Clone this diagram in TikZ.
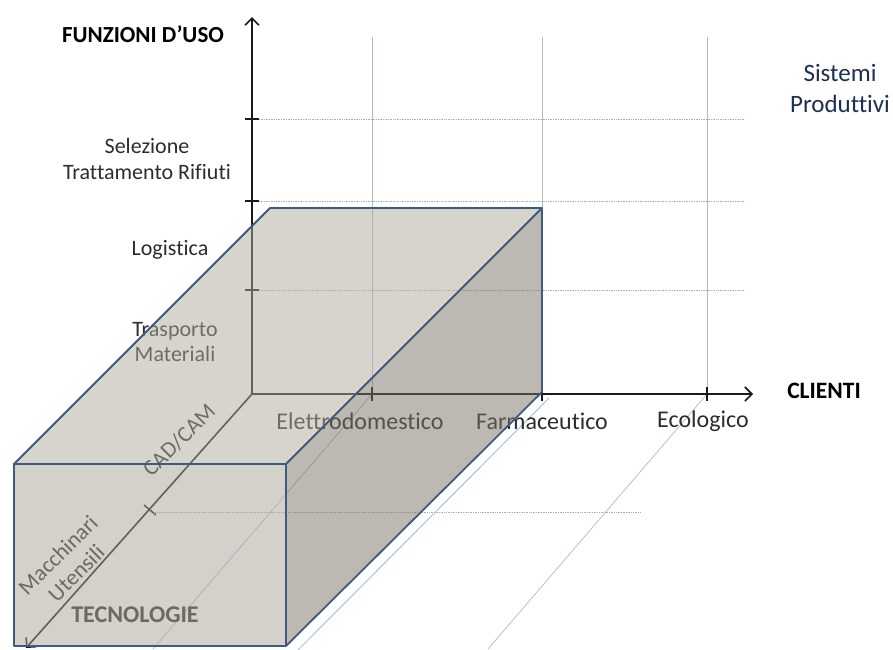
\documentclass[tikz,border=0pt]{standalone}
\usepackage{fontspec}
\setmainfont{Carlito}[Ligatures=NoCommon]
\usetikzlibrary{arrows.meta}
\definecolor{axiscol}{RGB}{26,26,26}
\definecolor{edgecol}{RGB}{62,90,130}
\definecolor{gridv}{RGB}{176,188,200}
\definecolor{gridh}{RGB}{175,175,175}
\definecolor{topface}{RGB}{177,171,159}
\definecolor{rightface}{RGB}{125,115,101}
\definecolor{frontface}{RGB}{171,165,153}
\definecolor{labelcol}{RGB}{45,45,45}
\definecolor{sistcol}{RGB}{28,48,80}
\definecolor{shadowcol}{RGB}{175,192,210}
\begin{document}
\begin{tikzpicture}[x=1pt,y=-1pt,
  lbl/.style={font=\fontsize{22}{26}\selectfont, text=labelcol, inner sep=0pt, align=center},
  axlbl/.style={font=\fontsize{24}{28}\selectfont, text=labelcol, inner sep=0pt},
  rotlbl/.style={font=\fontsize{22.5}{26}\selectfont, text=labelcol, inner sep=0pt, align=center, rotate=45},
  blbl/.style={font=\fontsize{23.5}{28}\selectfont\bfseries, text=black, inner sep=0pt},
  axisline/.style={draw=axiscol, line width=1.6pt},
  axisarrow/.style={axisline, -{Straight Barb[length=7pt,width=14pt,line width=1.6pt]}},
  tickmark/.style={draw=axiscol, line width=1.4pt},
  gridvert/.style={draw=gridv, line width=0.7pt},
  gridhor/.style={draw=gridh, line width=0.7pt, densely dotted},
  face/.style={fill opacity=0.5},
  edge/.style={draw=edgecol, line width=1.8pt, line join=round}]
\useasboundingbox (0,0) rectangle (893,649);
\fill[white] (0,0) rectangle (893,649);

% coordinates
\coordinate (O) at (252,394);
\coordinate (Ytop) at (252,17);
\coordinate (Xend) at (753,394);
\coordinate (Zend) at (26,648);

% grid
\foreach \gx in {372,542,707} \draw[gridvert] (\gx,37) -- (\gx,394);
\foreach \gy in {119,201,290} \draw[gridhor] (252,\gy) -- (745,\gy);
\draw[gridvert] (372,394) -- (153,649);
\draw[gridvert] (707,394) -- (488,649);
\draw[gridhor] (150,512) -- (640,512);
\draw[shadowcol, line width=1pt] (549,398) -- (297,651);

% axes
\draw[axisarrow] (O) -- (Ytop);
\draw[axisarrow] (O) -- (Xend);
\draw[axisarrow] (O) -- (Zend);
\foreach \ty in {119,201,290} \draw[tickmark] (245,\ty) -- (259,\ty);
\foreach \tx in {372,542,707} \draw[tickmark] (\tx,387) -- (\tx,401);
\draw[tickmark] (144,505) -- (156,515);

% labels
\node[blbl, font=\fontsize{23}{28}\selectfont\bfseries] (fu) at (143,34) {FUNZIONI D’USO};
\node[lbl] (sel) at (147,159) {Selezione\\Trattamento Rifiuti};
\node[lbl] (log) at (170,250) {Logistica};
\node[lbl, font=\fontsize{22}{25}\selectfont] (tra) at (175,342) {Trasporto\\Materiali};
\node[axlbl] (ele) at (360,421) {Elettrodomestico};
\node[axlbl] (far) at (542,421) {Farmaceutico};
\node[axlbl] (eco) at (703,421) {Ecologico};
\node[blbl] (cli) at (824,391) {CLIENTI};
\node[lbl, font=\fontsize{25}{31}\selectfont, text=sistcol] (sis) at (840,88) {Sistemi\\Produttivi};
\node[rotlbl] (cad) at (179,440) {CAD/CAM};
\node[rotlbl] (mac) at (67,564) {Macchinari\\Utensili};
\node[blbl, font=\fontsize{24}{28}\selectfont\bfseries, text=labelcol] (tec) at (135,615) {TECNOLOGIE};

% box
\coordinate (FTL) at (14,464);
\coordinate (FTR) at (286,464);
\coordinate (FBR) at (286,646);
\coordinate (FBL) at (14,646);
\coordinate (BTL) at (270,208);
\coordinate (BTR) at (542,208);
\coordinate (BBR) at (542,392);
\fill[face, topface] (FTL) -- (BTL) -- (BTR) -- (FTR) -- cycle;
\fill[face, rightface] (FTR) -- (BTR) -- (BBR) -- (FBR) -- cycle;
\fill[face, frontface] (FTL) -- (FTR) -- (FBR) -- (FBL) -- cycle;
\draw[edge] (FTL) -- (FTR) -- (FBR) -- (FBL) -- cycle;
\draw[edge] (FTL) -- (BTL) -- (BTR) -- (FTR);
\draw[edge] (BTR) -- (BBR) -- (FBR);
\end{tikzpicture}
\end{document}
